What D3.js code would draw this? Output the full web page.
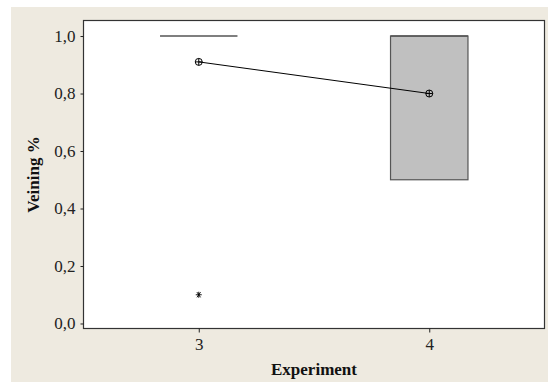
<!DOCTYPE html>
<html>
<head>
<meta charset="utf-8">
<script src="https://cdn.jsdelivr.net/npm/d3@7"></script>
<style>
  body { margin: 0; background: #fff; }
  text { font-family: "Liberation Serif", "Times New Roman", serif; }
</style>
</head>
<body>
<div id="chart"></div>
<script>
// data
var experiments = [3, 4];
var q1 = [1.0, 0.5];
var median = [1.0, 1.0];
var q3 = [1.0, 1.0];
var means = [0.91, 0.8];
var outliers = [{exp: 3, value: 0.1}];
var yTicks = [0, 0.2, 0.4, 0.6, 0.8, 1.0];

var W = 548, H = 382;
var margin = {left: 83.5, top: 20.5, right: 3.5, bottom: 53.5};
var width = W - margin.left - margin.right;
var height = H - margin.top - margin.bottom;

var svg = d3.select('#chart').append('svg')
  .attr('width', W)
  .attr('height', H);

// beige panel
svg.append('rect')
  .attr('x', 11).attr('y', 7)
  .attr('width', W - 11).attr('height', H - 7)
  .attr('fill', '#eeeae0');

var g = svg.append('g')
  .attr('transform', 'translate(' + margin.left + ',' + margin.top + ')');

var x = d3.scaleLinear().domain([2.5, 4.5]).range([0, width]);
var y = d3.scaleLinear().domain([-0.0174, 1.054]).range([height, 0]);

g.append('rect')
  .attr('width', width).attr('height', height)
  .attr('fill', '#fff')
  .attr('stroke', '#333').attr('stroke-width', 1.2);

// Axes
var yAxis = g.append('g')
  .call(d3.axisLeft(y).tickValues(yTicks).tickSize(3).tickPadding(5)
    .tickFormat(function(d) { return d3.format('.1f')(d).replace('.', ','); }));
var xAxis = g.append('g')
  .attr('transform', 'translate(0,' + height + ')')
  .call(d3.axisBottom(x).tickValues(experiments).tickSize(4).tickPadding(5)
    .tickFormat(d3.format('d')));
[yAxis, xAxis].forEach(function(a) {
  a.attr('font-family', '"Liberation Serif", serif').attr('font-size', 17);
  a.select('.domain').remove();
  a.selectAll('text').attr('fill', '#222');
  a.selectAll('line').attr('stroke', '#222');
});

var halfBox = 0.168;

// boxes
g.selectAll('.box')
  .data(experiments)
  .enter().append('rect')
  .attr('class', 'box')
  .attr('x', function(d) { return x(d - halfBox); })
  .attr('width', function(d) { return x(d + halfBox) - x(d - halfBox); })
  .attr('y', function(d, i) { return y(q3[i]); })
  .attr('height', function(d, i) { return y(q1[i]) - y(q3[i]); })
  .attr('fill', '#c0c0c0')
  .attr('stroke', '#555')
  .attr('stroke-width', 1.2);

// median lines
g.selectAll('.median')
  .data(experiments)
  .enter().append('line')
  .attr('x1', function(d) { return x(d - halfBox); })
  .attr('x2', function(d) { return x(d + halfBox); })
  .attr('y1', function(d, i) { return y(median[i]); })
  .attr('y2', function(d, i) { return y(median[i]); })
  .attr('stroke', '#555')
  .attr('stroke-width', 1.5);

// connect line of means
var line = d3.line()
  .x(function(d, i) { return x(experiments[i]); })
  .y(function(d) { return y(d); });
g.append('path')
  .attr('d', line(means))
  .attr('fill', 'none')
  .attr('stroke', '#000')
  .attr('stroke-width', 1);

// mean symbols (circle with cross)
var sym = g.selectAll('.mean')
  .data(means)
  .enter().append('g')
  .attr('transform', function(d, i) { return 'translate(' + x(experiments[i]) + ',' + y(d) + ')'; });
sym.append('circle').attr('r', 3.5).attr('fill', 'none').attr('stroke', '#000');
sym.append('path').attr('d', 'M-3.5,0H3.5M0,-3.5V3.5').attr('stroke', '#000');

// outliers
g.selectAll('.outlier')
  .data(outliers)
  .enter().append('path')
  .attr('transform', function(d) { return 'translate(' + x(d.exp) + ',' + y(d.value) + ')'; })
  .attr('d', 'M-3,0H3M-1.8,-2.6L1.8,2.6M1.8,-2.6L-1.8,2.6M0,-3V3')
  .attr('stroke', '#000')
  .attr('stroke-width', 0.9);

// titles
svg.append('text')
  .attr('x', margin.left + width / 2)
  .attr('y', 375)
  .attr('text-anchor', 'middle')
  .attr('font-size', 17)
  .attr('font-weight', 'bold')
  .attr('fill', '#111')
  .text('Experiment');
svg.append('text')
  .attr('transform', 'translate(39,' + (margin.top + height / 2) + ') rotate(-90)')
  .attr('text-anchor', 'middle')
  .attr('font-size', 17)
  .attr('font-weight', 'bold')
  .attr('fill', '#111')
  .text('Veining %');
</script>
</body>
</html>
